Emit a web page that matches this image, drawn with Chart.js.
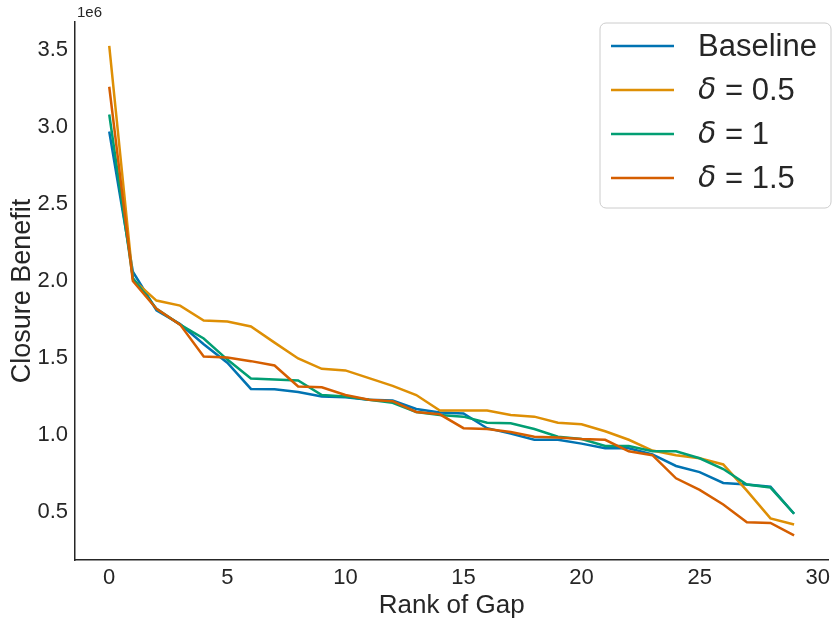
<!DOCTYPE html>
<html>
<head>
<meta charset="utf-8">
<script src="https://cdn.jsdelivr.net/npm/chart.js@4.4.0/dist/chart.umd.min.js"></script>
<style>
  html, body { margin: 0; padding: 0; background: white; }
  #wrap { width: 835px; height: 621px; }
</style>
</head>
<body>
<div id="wrap"><canvas id="chart"></canvas></div>
<script>
// rank of gap (x) and closure benefit per series, in units of 1e6
const ranks = [0, 1, 2, 3, 4, 5, 6, 7, 8, 9, 10, 11, 12, 13, 14, 15, 16, 17, 18, 19, 20, 21, 22, 23, 24, 25, 26, 27, 28, 29];
const baseline = [2.97, 2.06, 1.81, 1.72, 1.59, 1.47, 1.30, 1.297, 1.28, 1.25, 1.245, 1.23, 1.225, 1.17, 1.147, 1.14, 1.045, 1.01, 0.97, 0.97, 0.945, 0.915, 0.915, 0.875, 0.80, 0.76, 0.69, 0.68, 0.665, 0.49];
const delta05 = [3.525, 2.01, 1.873, 1.84, 1.743, 1.737, 1.705, 1.60, 1.497, 1.43, 1.42, 1.37, 1.32, 1.26, 1.16, 1.16, 1.16, 1.13, 1.12, 1.08, 1.07, 1.025, 0.97, 0.90, 0.87, 0.85, 0.81, 0.64, 0.46, 0.42];
const delta1 = [3.08, 2.02, 1.82, 1.717, 1.627, 1.49, 1.368, 1.361, 1.355, 1.26, 1.25, 1.23, 1.21, 1.15, 1.13, 1.12, 1.08, 1.077, 1.04, 0.99, 0.975, 0.93, 0.93, 0.895, 0.895, 0.85, 0.78, 0.68, 0.66, 0.49];
const delta15 = [3.26, 2.00, 1.82, 1.717, 1.51, 1.504, 1.48, 1.452, 1.316, 1.31, 1.26, 1.23, 1.22, 1.15, 1.135, 1.045, 1.04, 1.02, 0.99, 0.985, 0.975, 0.97, 0.895, 0.87, 0.72, 0.645, 0.55, 0.435, 0.43, 0.35];

const seriesLabels = ["Baseline", "δ = 0.5", "δ = 1", "δ = 1.5"];
const seriesValues = [baseline, delta05, delta1, delta15];
const colors = ["#0173b2", "#de8f05", "#029e73", "#d55e00"];

const FONT = "'Liberation Sans', Arial, sans-serif";
const TEXT = "#262626";

// offset text + legend drawn on top of the plot
const extras = {
  id: "extras",
  afterDraw(chart) {
    const ctx = chart.ctx;
    const area = chart.chartArea;
    ctx.save();
    ctx.fillStyle = TEXT;
    ctx.font = "15px " + FONT;
    ctx.textAlign = "left";
    ctx.textBaseline = "middle";
    ctx.fillText("1e6", area.left + 2, 13);

    // legend box
    const bx = 600, by = 23, bw = 231, bh = 185, r = 6;
    ctx.beginPath();
    ctx.moveTo(bx + r, by);
    ctx.arcTo(bx + bw, by, bx + bw, by + bh, r);
    ctx.arcTo(bx + bw, by + bh, bx, by + bh, r);
    ctx.arcTo(bx, by + bh, bx, by, r);
    ctx.arcTo(bx, by, bx + bw, by, r);
    ctx.closePath();
    ctx.fillStyle = "rgba(255,255,255,0.8)";
    ctx.fill();
    ctx.strokeStyle = "#cccccc";
    ctx.lineWidth = 1;
    ctx.stroke();

    chart.data.datasets.forEach((ds, i) => {
      const y = 46 + i * 44;
      ctx.beginPath();
      ctx.moveTo(611, y);
      ctx.lineTo(674, y);
      ctx.strokeStyle = ds.borderColor;
      ctx.lineWidth = 2.5;
      ctx.stroke();
      ctx.fillStyle = TEXT;
      let x = 698;
      let label = ds.label;
      if (label.startsWith("δ")) {
        ctx.font = "italic 30px 'DejaVu Sans', sans-serif";
        ctx.fillText("δ", x, y + 1);
        x += ctx.measureText("δ").width;
        label = label.slice(1);
      }
      ctx.font = "31px " + FONT;
      ctx.fillText(label, x, y + 1);
    });
    ctx.restore();
  }
};

new Chart(document.getElementById("chart"), {
  type: "line",
  data: {
    datasets: seriesValues.map((vals, i) => {
      return {
        label: seriesLabels[i],
        data: ranks.map((r, j) => ({ x: r, y: vals[j] })),
        borderColor: colors[i],
        backgroundColor: colors[i],
        borderWidth: 2.5,
        pointRadius: 0,
        tension: 0,
        order: seriesValues.length - i,
      };
    }),
  },
  options: {
    responsive: true,
    maintainAspectRatio: false,
    animation: false,
    layout: { padding: { top: 22, right: 4, left: 0, bottom: 0 } },
    plugins: {
      legend: { display: false },
      tooltip: { enabled: false },
    },
    scales: {
      x: {
        type: "linear",
        min: -1.45,
        max: 30.45,
        grid: { display: false, drawTicks: false },
        border: { display: true, color: TEXT, width: 1.5 },
        ticks: {
          stepSize: 5,
          includeBounds: false,
          padding: 5,
          color: TEXT,
          font: { family: FONT, size: 22 },
          maxRotation: 0,
        },
        title: {
          display: true,
          text: "Rank of Gap",
          color: TEXT,
          font: { family: FONT, size: 26 },
          padding: { top: 0, bottom: 0 },
        },
        afterFit(scale) { scale.height = 61; },
      },
      y: {
        type: "linear",
        min: 0.19,
        max: 3.68,
        grid: { display: false, drawTicks: false },
        border: { display: true, color: TEXT, width: 1.5 },
        ticks: {
          stepSize: 0.5,
          includeBounds: false,
          padding: 7,
          color: TEXT,
          font: { family: FONT, size: 22 },
          callback: (v) => v.toFixed(1),
        },
        title: {
          display: true,
          text: "Closure Benefit",
          color: TEXT,
          font: { family: FONT, size: 27 },
          padding: { top: 6, bottom: 0 },
        },
        afterFit(scale) { scale.width = 75; },
      },
    },
  },
  plugins: [extras],
});
</script>
</body>
</html>
